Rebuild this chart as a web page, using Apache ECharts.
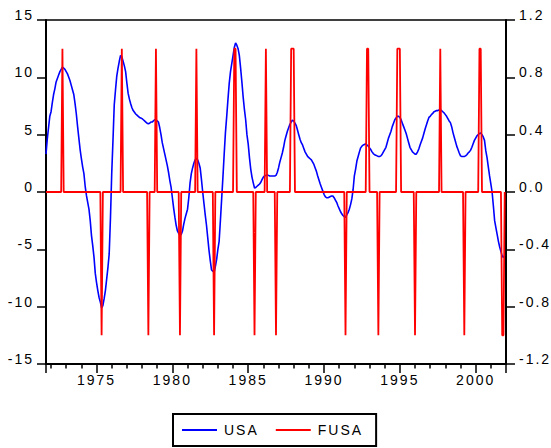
<!DOCTYPE html>
<html><head><meta charset="utf-8">
<script src="https://cdn.jsdelivr.net/npm/echarts@6/dist/echarts.min.js"></script>
<style>
html,body{margin:0;padding:0;background:#fff;}
#c{width:551px;height:448px;letter-spacing:2px;}
#c svg text, #c text, svg text{letter-spacing:2px !important;}
</style></head><body><div id="c"></div>
<script>
// Monthly data, first observation Sep 1971, last Dec 2001
const startYear = 1971;
const startMonth = 9;
const usa = [
  3.3, 4.6, 5.6, 6.6,
  7.0, 7.8, 8.5, 9.0, 9.6, 9.9, 10.2, 10.5, 10.7, 10.9, 10.8, 10.7,
  10.5, 10.3, 10.0, 9.7, 9.3, 8.9, 8.5, 7.7, 6.8, 5.7, 4.7, 3.7,
  2.9, 2.2, 1.6, 0.5, -0.3, -0.9, -1.5, -2.5, -3.8, -4.7, -5.7, -7.1,
  -7.9, -8.6, -9.2, -9.6, -10.1, -9.9, -9.3, -8.6, -7.6, -6.6, -5.4, -2.3,
  1.6, 4.5, 7.6, 8.9, 10.1, 10.8, 11.4, 11.9, 11.8, 11.4, 11.0, 10.5,
  9.5, 8.6, 8.1, 7.7, 7.35, 7.1, 6.95, 6.8, 6.7, 6.6, 6.5, 6.45,
  6.4, 6.3, 6.2, 6.1, 6.0, 5.95, 6.0, 6.1, 6.1, 6.2, 6.3, 6.3,
  6.2, 6.1, 5.6, 5.0, 4.3, 3.8, 3.3, 2.8, 2.3, 1.7, 1.0, 0.4,
  -0.5, -1.4, -2.2, -2.9, -3.4, -3.6, -3.75, -3.7, -3.4, -2.8, -2.3, -1.9,
  -1.5, -0.5, 0.8, 1.6, 2.1, 2.5, 2.8, 2.95, 2.8, 2.5, 2.1, 1.1,
  0.0, -1.0, -2.0, -2.9, -4.0, -5.1, -6.0, -6.8, -6.9, -7.0, -6.5, -5.9,
  -5.0, -4.3, -2.5, -0.6, 1.3, 3.3, 5.2, 6.6, 8.1, 9.5, 10.5, 11.2,
  11.9, 12.6, 13.0, 12.8, 12.5, 11.9, 10.8, 9.6, 8.3, 7.2, 6.3, 5.0,
  4.2, 3.0, 2.0, 1.3, 0.8, 0.35, 0.4, 0.5, 0.6, 0.7, 0.85, 1.1,
  1.3, 1.4, 1.45, 1.5, 1.45, 1.4, 1.4, 1.4, 1.4, 1.4, 1.45, 1.7,
  2.1, 2.6, 3.0, 3.4, 3.9, 4.5, 4.9, 5.3, 5.6, 5.9, 6.1, 6.25,
  6.2, 6.0, 5.8, 5.4, 5.0, 4.6, 4.3, 4.1, 3.8, 3.5, 3.3, 3.1,
  3.0, 2.9, 2.8, 2.6, 2.4, 2.1, 1.8, 1.4, 1.05, 0.7, 0.4, 0.1,
  -0.2, -0.4, -0.5, -0.5, -0.45, -0.4, -0.35, -0.35, -0.5, -0.7, -0.9, -1.2,
  -1.45, -1.7, -1.9, -2.05, -2.15, -2.2, -2.0, -1.8, -1.5, -1.1, -0.6, 0.2,
  1.4, 2.0, 2.7, 3.1, 3.5, 3.85, 4.0, 4.1, 4.15, 4.2, 4.1, 4.0,
  3.85, 3.7, 3.5, 3.35, 3.25, 3.2, 3.15, 3.1, 3.1, 3.15, 3.3, 3.5,
  3.7, 3.9, 4.3, 4.7, 5.0, 5.3, 5.7, 6.0, 6.3, 6.45, 6.6, 6.6,
  6.5, 6.3, 6.0, 5.7, 5.4, 5.1, 4.7, 4.3, 3.9, 3.7, 3.5, 3.4,
  3.3, 3.3, 3.5, 3.75, 4.1, 4.4, 4.7, 5.1, 5.5, 5.85, 6.2, 6.5,
  6.6, 6.75, 6.85, 7.0, 7.05, 7.1, 7.1, 7.15, 7.15, 7.1, 7.0, 6.9,
  6.75, 6.6, 6.4, 6.2, 6.05, 5.7, 5.2, 4.8, 4.4, 4.0, 3.7, 3.4,
  3.15, 3.1, 3.1, 3.1, 3.15, 3.25, 3.4, 3.5, 3.65, 3.9, 4.2, 4.5,
  4.7, 4.9, 5.0, 5.1, 5.15, 5.0, 4.8, 4.5, 3.6, 3.0, 2.2, 1.4,
  0.7, 0.0, -1.2, -2.5, -3.1, -3.7, -4.3, -4.8, -5.2, -5.6, -5.7, -5.5
];
// FUSA: +1 at peak months, -1 at trough months, 0 otherwise
const fusaPeaks = ['1972-10','1976-09','1978-12','1981-08','1984-02','1984-03','1986-03',
  '1987-11','1987-12','1988-01','1992-11','1992-12','1994-11','1994-12','1995-01',
  '1997-09','2000-04','2000-05'];
const fusaTroughs = ['1975-05','1978-06','1980-07','1982-10','1985-06','1986-11',
  '1991-06','1993-08','1996-01','1999-04','2001-10','2001-11'];
const leftTicks = {min:-15, max:15, step:5};
const rightTicks = {min:-1.2, max:1.2, step:0.4};
const yearLabelStep = 5;

const FONT = "'Liberation Sans', Arial, sans-serif";
const months = [];
const usaData = [];
const fusaData = [];
for (let i = 0; i < usa.length; i++) {
  const k = (startMonth - 1) + i;
  const y = startYear + Math.floor(k / 12);
  const m = k % 12 + 1;
  const key = y + '-' + String(m).padStart(2, '0');
  const t = y + (m - 1) / 12;
  months.push(key);
  usaData.push([t, usa[i]]);
  let f = 0;
  if (fusaPeaks.indexOf(key) >= 0) f = 1;
  if (fusaTroughs.indexOf(key) >= 0) f = -1;
  fusaData.push([t, f]);
}

const chart = echarts.init(document.getElementById('c'), null, {renderer: 'svg'});
chart.setOption({
  animation: false,
  backgroundColor: '#fff',
  grid: {left: 46, right: 45, top: 20, bottom: 84, show: true, borderColor: '#000', borderWidth: 1.5, containLabel: false},
  xAxis: {
    type: 'value',
    min: startYear + (startMonth - 1) / 12,
    max: 2002,
    minInterval: yearLabelStep, maxInterval: yearLabelStep,
    axisLine: {show: true, onZero: false, lineStyle: {color: '#000', width: 2}},
    axisTick: {show: true, length: 9, lineStyle: {color: '#000', width: 1.5}},
    minorTick: {show: true, splitNumber: 5, length: 4.5, lineStyle: {color: '#000', width: 1.5}},
    axisLabel: {
      margin: 9, color: '#000', fontSize: 14, fontFamily: FONT, lineHeight: 14,
      showMinLabel: false, showMaxLabel: false,
      formatter: function (v) {
        const r = Math.round(v);
        return (Math.abs(v - r) < 1e-6 && r % yearLabelStep === 0) ? String(r) : '';
      }
    },
    splitLine: {show: false}, minorSplitLine: {show: false}
  },
  yAxis: [
    {
      type: 'value', position: 'left', min: leftTicks.min, max: leftTicks.max, interval: leftTicks.step,
      axisLine: {show: true, onZero: false, lineStyle: {color: '#000', width: 2}},
      axisTick: {show: true, length: 9, lineStyle: {color: '#000', width: 1.5}},
      axisLabel: {margin: 12, color: '#000', fontSize: 14, fontFamily: FONT, verticalAlign: 'bottom', lineHeight: 10},
      splitLine: {show: false}
    },
    {
      type: 'value', position: 'right', min: rightTicks.min, max: rightTicks.max, interval: rightTicks.step,
      axisLine: {show: true, onZero: false, lineStyle: {color: '#000', width: 2}},
      axisTick: {show: true, length: 9, lineStyle: {color: '#000', width: 1.5}},
      axisLabel: {
        margin: 13, color: '#000', fontSize: 14, fontFamily: FONT, verticalAlign: 'bottom', lineHeight: 10,
        formatter: function (v) { return (Math.abs(v) < 1e-9 ? 0 : v).toFixed(1); }
      },
      splitLine: {show: false}
    }
  ],
  legend: {
    data: ['USA', 'FUSA'],
    left: 173, top: 414, orient: 'horizontal',
    padding: [9, 19, 9, 9], itemGap: 21, itemWidth: 35, itemHeight: 2, icon: 'rect',
    borderColor: '#000', borderWidth: 2, backgroundColor: '#fff',
    selectedMode: false,
    textStyle: {fontSize: 14, color: '#000', fontFamily: FONT, lineHeight: 14, padding: [0, 2, 0, 2]}
  },
  series: [
    {name: 'USA', type: 'line', data: usaData, yAxisIndex: 0, symbol: 'none', showSymbol: false,
     lineStyle: {color: '#0000ff', width: 1.6}, itemStyle: {color: '#0000ff'}, z: 2},
    {name: 'FUSA', type: 'line', data: fusaData, yAxisIndex: 1, symbol: 'none', showSymbol: false,
     lineStyle: {color: '#ff0000', width: 1.8}, itemStyle: {color: '#ff0000'}, z: 3}
  ]
});
</script></body></html>
